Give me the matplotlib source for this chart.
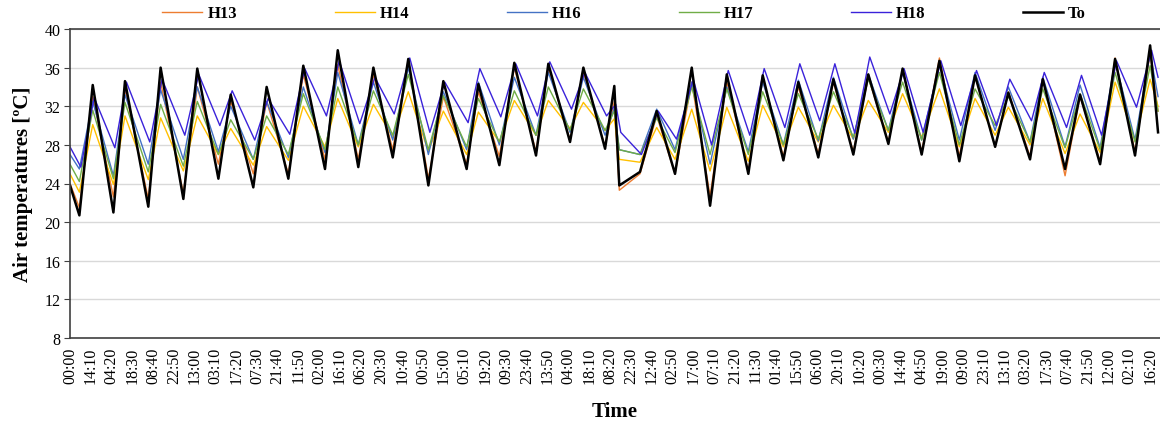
import numpy as np
import matplotlib
matplotlib.use("Agg")
import matplotlib.pyplot as plt

plt.rcParams.update({
    "font.family": ["Liberation Serif", "DejaVu Serif"],
    "font.size": 11.5,
})

# --------------------------------------------------------------------------
# Data: daily trough / peak (hours since 00:00 of day 1)
# 10-minute samples, one tick label every 85 samples
# --------------------------------------------------------------------------
KNOT_HOURS = [
    0.0,
    6.4, 15.5, 29.6, 37.5, 53.4, 61.8, 77.3, 86.8, 101.2, 109.6,
    125.0, 134.1, 148.9, 159.1, 173.9, 182.6, 196.6, 206.9, 220.1, 230.7,
    244.4, 254.6, 270.5, 278.5, 292.8, 303.0, 317.8, 326.2, 341.0, 350.1,
    364.9, 371.2, 374.6,
    388.7, 400.1, 412.6, 424.0, 436.5, 447.9, 462.6, 472.4, 486.5, 496.7,
    510.3, 520.6, 534.2, 544.4, 558.1, 567.8, 580.8, 592.9, 606.5, 617.2,
    630.9, 639.9, 654.7, 663.4, 678.6, 688.8, 702.5, 712.7, 726.3, 736.6,
    742.0,
]

H13 = [24.0,
       21.5, 33.0, 22.6, 33.8, 22.4, 34.5, 23.0, 34.0, 26.0, 32.5,
       25.0, 32.5, 25.0, 35.3, 26.5, 36.3, 26.5, 35.3, 27.5, 36.8,
       24.5, 33.0, 26.0, 33.5, 26.8, 36.0, 27.3, 36.0, 28.5, 35.5,
       27.8, 32.5, 23.3,
       25.0, 31.0, 25.0, 34.5, 22.7, 34.5, 25.3, 34.8, 26.8, 34.0,
       27.1, 34.5, 27.3, 35.0, 28.3, 35.7, 27.3, 37.0, 26.8, 35.2,
       27.8, 33.5, 26.8, 35.0, 24.8, 33.0, 26.3, 37.0, 27.3, 37.5,
       31.5]

H14 = [25.0,
       23.1, 30.1, 23.9, 31.0, 24.4, 30.8, 25.3, 31.0, 27.0, 29.7,
       25.9, 29.9, 26.4, 32.0, 27.8, 32.8, 27.8, 32.2, 28.8, 33.5,
       27.3, 31.5, 27.0, 31.4, 28.3, 32.6, 29.0, 32.6, 29.7, 32.4,
       29.5, 30.7, 26.5,
       26.2, 29.8, 26.5, 31.7, 25.3, 31.9, 26.3, 32.1, 27.8, 31.9,
       28.3, 32.1, 28.6, 32.6, 29.3, 33.3, 28.8, 33.8, 27.8, 32.8,
       29.0, 31.9, 28.0, 32.8, 27.1, 31.2, 27.2, 34.5, 28.5, 34.8,
       32.0]

H16 = [27.0,
       25.5, 32.5, 24.8, 33.2, 26.0, 33.7, 26.5, 34.0, 27.3, 32.0,
       26.5, 32.5, 26.7, 34.0, 27.2, 35.5, 28.0, 34.5, 28.5, 36.0,
       27.0, 33.5, 27.5, 34.5, 28.0, 35.0, 29.0, 35.5, 29.3, 35.0,
       29.0, 31.8, 27.5,
       27.0, 31.7, 27.5, 34.5, 26.0, 34.0, 27.3, 34.5, 28.0, 34.7,
       28.4, 35.0, 28.6, 35.3, 29.5, 35.5, 28.5, 36.3, 28.5, 35.5,
       29.5, 34.0, 28.3, 35.0, 27.8, 34.2, 27.7, 36.7, 28.5, 37.5,
       33.0]

H17 = [26.0,
       24.2, 31.6, 24.5, 32.4, 25.2, 32.2, 25.8, 32.5, 27.0, 30.6,
       26.5, 31.0, 27.0, 33.3, 27.5, 34.0, 28.0, 33.6, 29.0, 35.3,
       27.5, 33.1, 27.8, 32.8, 28.3, 33.6, 29.0, 34.0, 29.5, 33.8,
       29.5, 31.5, 27.5,
       27.0, 30.8, 27.2, 34.0, 27.0, 33.8, 27.0, 33.5, 28.0, 33.3,
       28.6, 33.5, 28.8, 34.8, 29.5, 34.5, 28.5, 35.5, 28.0, 33.8,
       30.0, 33.0, 28.3, 33.8, 27.7, 33.3, 27.5, 35.5, 28.3, 36.2,
       31.5]

H18 = [27.8,
       25.7, 32.9, 27.7, 34.5, 28.3, 34.8, 29.0, 35.3, 30.0, 33.6,
       28.5, 32.8, 29.1, 35.9, 31.0, 36.7, 30.2, 35.0, 31.2, 37.0,
       29.3, 34.5, 30.3, 35.9, 30.9, 36.4, 31.0, 36.6, 31.7, 35.5,
       31.0, 32.2, 29.3,
       27.0, 31.5, 28.6, 34.8, 28.0, 35.7, 29.0, 35.9, 29.8, 36.4,
       30.5, 36.4, 29.2, 37.1, 31.2, 35.9, 29.3, 36.7, 30.0, 35.7,
       30.0, 34.8, 30.5, 35.5, 29.8, 35.2, 29.0, 36.7, 31.9, 37.8,
       35.0]

TO = [23.8,
      20.7, 34.2, 21.0, 34.6, 21.6, 36.0, 22.4, 35.9, 24.5, 33.2,
      23.6, 34.0, 24.5, 36.2, 25.5, 37.8, 25.7, 36.0, 26.7, 36.9,
      23.8, 34.6, 25.5, 34.3, 25.9, 36.5, 26.9, 36.4, 28.3, 36.0,
      27.6, 34.1, 23.8,
      25.2, 31.5, 25.0, 36.0, 21.7, 35.3, 25.0, 35.2, 26.4, 34.5,
      26.7, 34.8, 27.0, 35.3, 28.1, 35.9, 27.0, 36.7, 26.3, 35.2,
      27.8, 33.4, 26.5, 34.8, 25.5, 33.2, 26.0, 36.9, 26.9, 38.3,
      29.3]

# H18 responds later than the others (hours)
H18_LAG = 1.0

TICK_LABELS = [
    "00:00", "14:10", "04:20", "18:30", "08:40", "22:50", "13:00", "03:10",
    "17:20", "07:30", "21:40", "11:50", "02:00", "16:10", "06:20", "20:30",
    "10:40", "00:50", "15:00", "05:10", "19:20", "09:30", "23:40", "13:50",
    "04:00", "18:10", "08:20", "22:30", "12:40", "02:50", "17:00", "07:10",
    "21:20", "11:30", "01:40", "15:50", "06:00", "20:10", "10:20", "00:30",
    "14:40", "04:50", "19:00", "09:00", "23:10", "13:10", "03:20", "17:30",
    "07:40", "21:50", "12:00", "02:10", "16:20",
]
TICK_STEP = 85          # samples between labels

SERIES = [
    ("H13", H13, "#ED7D31", 1.0),
    ("H14", H14, "#FFC000", 1.0),
    ("H16", H16, "#4472C4", 1.0),
    ("H17", H17, "#70AD47", 1.0),
    ("H18", H18, "#3A22DA", 1.0),
    ("To", TO, "#000000", 1.8),
]

# --------------------------------------------------------------------------
# Plot
# --------------------------------------------------------------------------
fig = plt.figure(figsize=(11.6, 4.27), dpi=100)
ax = fig.add_axes([70 / 1160, 1 - 339 / 427, 1090 / 1160, 309 / 427])

hours = np.array(KNOT_HOURS)
for name, vals, color, lw in SERIES:
    h = hours.copy()
    if name == "H18":
        h[1:-1] += H18_LAG
    ax.plot(h * 6, vals, color=color, lw=lw, label=name)

ax.set_ylim(8, 40)
ax.set_yticks(np.arange(8, 41, 4))
ax.set_xlim(0, 4460)
ax.set_xticks(np.arange(len(TICK_LABELS)) * TICK_STEP)
ax.set_xticklabels(TICK_LABELS, rotation=90)
ax.tick_params(axis="x", length=0, pad=6)
ax.tick_params(axis="y", length=4, width=0.8, color="#404040", pad=3)

ax.grid(axis="y", color="#D9D9D9", lw=1.0)
ax.set_axisbelow(True)
for side in ["left", "bottom", "top"]:
    ax.spines[side].set_color("#404040")
    ax.spines[side].set_linewidth(1.2)
ax.spines["right"].set_visible(False)

ax.set_ylabel("Air temperatures [ºC]", fontsize=15, fontweight="bold",
              labelpad=8)
ax.set_xlabel("Time", fontsize=15, fontweight="bold", labelpad=13)

fig.legend(loc="upper center", bbox_to_anchor=(624 / 1160, 1.02), ncol=6,
           frameon=False, prop={"weight": "bold", "size": 12},
           handlelength=2.4, handletextpad=0.3, columnspacing=5.85)

fig.savefig("out.png", dpi=100)
plt.close(fig)
